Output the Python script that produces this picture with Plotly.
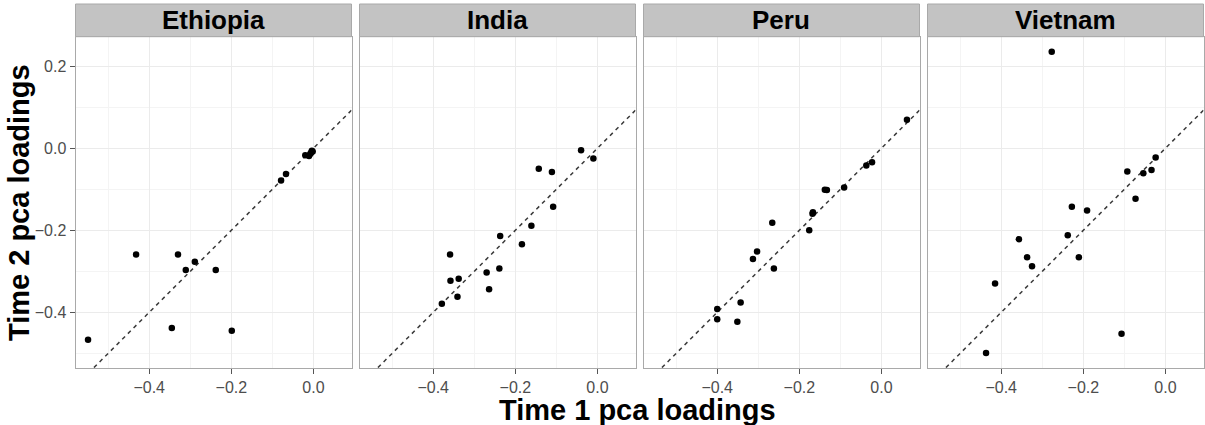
import plotly.graph_objects as go

countries = ["Ethiopia", "India", "Peru", "Vietnam"]

ethiopia_x = [-0.549, -0.432, -0.330, -0.311, -0.289, -0.238, -0.345, -0.199, -0.079, -0.067,
              -0.020, -0.011, -0.006, -0.004, -0.002, -0.008]
ethiopia_y = [-0.467, -0.259, -0.259, -0.297, -0.277, -0.297, -0.438, -0.445, -0.079, -0.063,
              -0.017, -0.019, -0.011, -0.006, -0.008, -0.014]

india_x = [-0.040, -0.010, -0.143, -0.111, -0.108, -0.161, -0.184, -0.237, -0.239, -0.270,
           -0.264, -0.359, -0.358, -0.338, -0.341, -0.379]
india_y = [-0.005, -0.025, -0.050, -0.058, -0.143, -0.189, -0.234, -0.214, -0.293, -0.303,
           -0.344, -0.259, -0.323, -0.318, -0.362, -0.379]

peru_x = [0.062, -0.023, -0.037, -0.091, -0.138, -0.133, -0.167, -0.168, -0.176, -0.266,
          -0.303, -0.313, -0.262, -0.343, -0.400, -0.400, -0.351]
peru_y = [0.069, -0.034, -0.042, -0.096, -0.101, -0.102, -0.156, -0.160, -0.200, -0.182,
          -0.252, -0.270, -0.293, -0.376, -0.392, -0.417, -0.423]

vietnam_x = [-0.277, -0.024, -0.093, -0.054, -0.034, -0.073, -0.228, -0.191, -0.238, -0.211,
             -0.357, -0.337, -0.325, -0.415, -0.107, -0.437]
vietnam_y = [0.235, -0.023, -0.057, -0.061, -0.053, -0.123, -0.143, -0.152, -0.212, -0.266,
             -0.222, -0.266, -0.288, -0.330, -0.452, -0.499]

xs = [ethiopia_x, india_x, peru_x, vietnam_x]
ys = [ethiopia_y, india_y, peru_y, vietnam_y]

identity_line = [-0.7, 0.2]

x_title = "Time 1 pca loadings"
y_title = "Time 2 pca loadings"

W, H = 1205, 425
panel_px = [(75.5, 351.5), (359.5, 635.5), (643.5, 919.5), (927.5, 1203.5)]
plot_top, plot_bottom = 36.7, 368.0
strip_top = 4.0

FONT = "Liberation Sans, Arial, Helvetica, sans-serif"

all_x = sum(xs, [])
all_y = sum(ys, [])
xr = max(all_x) - min(all_x)
yr = max(all_y) - min(all_y)
x_range = [min(all_x) - 0.05 * xr, max(all_x) + 0.05 * xr]
y_range = [min(all_y) - 0.05 * yr, max(all_y) + 0.05 * yr]

fig = go.Figure()
layout = dict(
    width=W, height=H, margin=dict(l=0, r=0, t=0, b=0),
    paper_bgcolor="white", plot_bgcolor="white", showlegend=False,
    font=dict(family=FONT),
)
shapes = []
annotations = []

ydom = [1 - plot_bottom / H, 1 - plot_top / H]

for i, (c, x, y) in enumerate(zip(countries, xs, ys)):
    n = "" if i == 0 else str(i + 1)
    xa, ya = "x" + n, "y" + n
    fig.add_trace(go.Scatter(x=identity_line, y=identity_line, mode="lines",
                             line=dict(color="#3a3a3a", width=1.5, dash="4px,4px"),
                             xaxis=xa, yaxis=ya, hoverinfo="skip"))
    fig.add_trace(go.Scatter(x=x, y=y, mode="markers",
                             marker=dict(color="black", size=6.5),
                             xaxis=xa, yaxis=ya, cliponaxis=False))
    x0, x1 = panel_px[i]
    dom = [x0 / W, x1 / W]
    common = dict(
        showgrid=True, gridcolor="#ebebeb", gridwidth=1,
        zeroline=False, showline=True, mirror=True, linecolor="#a9a9a9", linewidth=1,
        ticks="outside", ticklen=5, tickcolor="#555555", tickwidth=1,
        dtick=0.2, tick0=0, tickformat=".1f",
        tickfont=dict(family=FONT, size=16, color="#4d4d4d"),
        minor=dict(dtick=0.1, tick0=0, showgrid=True, gridcolor="#f4f4f4", gridwidth=1, ticks=""),
        fixedrange=True,
    )
    layout["xaxis" + n] = dict(common, domain=dom, range=x_range, anchor=ya)
    layout["yaxis" + n] = dict(common, domain=ydom, range=y_range, anchor=xa,
                               showticklabels=(i == 0), ticks="outside" if i == 0 else "")
    # strip
    shapes.append(dict(type="rect", xref="paper", yref="paper",
                       x0=dom[0], x1=dom[1], y0=1 - plot_top / H, y1=1 - strip_top / H,
                       fillcolor="#c3c3c3", line=dict(color="#a9a9a9", width=1), layer="above"))
    annotations.append(dict(text="<b>%s</b>" % c, xref="paper", yref="paper",
                            x=(dom[0] + dom[1]) / 2, y=1 - (strip_top + plot_top) / 2 / H,
                            xanchor="center", yanchor="middle", showarrow=False,
                            font=dict(family=FONT, size=26, color="black")))

annotations.append(dict(text="<b>%s</b>" % x_title, xref="paper", yref="paper",
                        x=637 / W, y=1 - 410 / H, xanchor="center", yanchor="middle",
                        showarrow=False, font=dict(family=FONT, size=29, color="black")))
annotations.append(dict(text="<b>%s</b>" % y_title, xref="paper", yref="paper",
                        x=19 / W, y=1 - 203 / H, xanchor="center", yanchor="middle",
                        textangle=-90, showarrow=False,
                        font=dict(family=FONT, size=29, color="black")))

layout["shapes"] = shapes
layout["annotations"] = annotations
fig.update_layout(**layout)
fig.write_html("out.html", config={"displayModeBar": False})
